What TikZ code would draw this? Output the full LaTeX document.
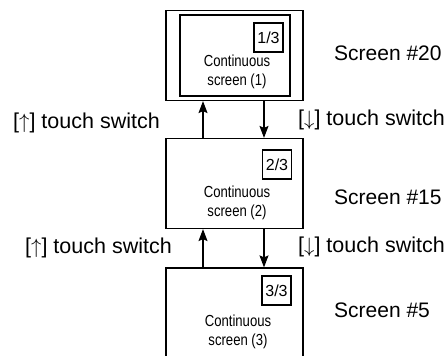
\documentclass[tikz,border=0pt]{standalone}
\usepackage{fontspec}
\setmainfont{Liberation Sans}
\newfontfamily\condfont[FakeStretch=0.82]{Liberation Sans}
\usetikzlibrary{arrows.meta, positioning}

\begin{document}
\begin{tikzpicture}[x=1pt, y=-1pt, font=\fontsize{21}{25}\selectfont,
    scr/.style={draw, line width=1.2pt, minimum width=137pt, minimum height=90pt, inner sep=0pt},
    pg/.style={draw, line width=1.1pt, minimum width=29pt, minimum height=29pt, inner sep=0pt, font=\fontsize{16}{18}\selectfont},
    txt/.style={align=center, inner sep=0pt, font=\condfont\fontsize{16}{19}\selectfont},
    lbl/.style={anchor=west, inner sep=0pt},
    sw/.style={lbl, font=\fontsize{21.5}{25}\selectfont},
    arr/.style={-{Stealth[length=12pt, width=9pt, inset=2pt]}, line width=1.2pt}]
  \useasboundingbox (0,0) rectangle (448,356);
  % screen #20
  \node[scr] (s1) at (234.5,55.5) {};
  \node[draw, line width=1.2pt, minimum width=110pt, minimum height=81pt] (s1in) at (235,55.5) {};
  \node[pg] (p1) at (268.5,37.5) {1/3};
  \node[txt] (c1) at (237,72) {Continuous\\screen (1)};
  \node[lbl] (t20) at (334,53) {Screen \#20};
  % screen #15
  \node[scr] (s2) at (234.5,183.5) {};
  \node[pg] (p2) at (277,164.5) {2/3};
  \node[txt] (c2) at (237,203) {Continuous\\screen (2)};
  \node[lbl] (t15) at (334,197) {Screen \#15};
  % screen #5, cut off at the bottom
  \node[scr, minimum height=132pt] (s3) at (234.5,334) {};
  \node[pg] (p3) at (276.5,290.5) {3/3};
  \node[txt] (c3) at (238,332) {Continuous\\screen (3)};
  \node[lbl] (t5) at (334,310) {Screen \#5};
  % touch switches
  \draw[arr] ([xshift=-31.5pt]s2.north) -- ([xshift=-31.5pt]s1.south);
  \draw[arr] ([xshift=29.5pt]s1.south) -- ([xshift=29.5pt]s2.north);
  \draw[arr] ([xshift=-31.5pt]s3.north) -- ([xshift=-31.5pt]s2.south);
  \draw[arr] ([xshift=29.5pt]s2.south) -- ([xshift=29.5pt]s3.north);
  \node[sw] (lu1) at (13,123) {[$\uparrow$] touch switch};
  \node[sw] (ld1) at (298,120) {[$\downarrow$] touch switch};
  \node[sw] (lu2) at (25,248) {[$\uparrow$] touch switch};
  \node[sw] (ld2) at (298,247) {[$\downarrow$] touch switch};
\end{tikzpicture}
\end{document}
